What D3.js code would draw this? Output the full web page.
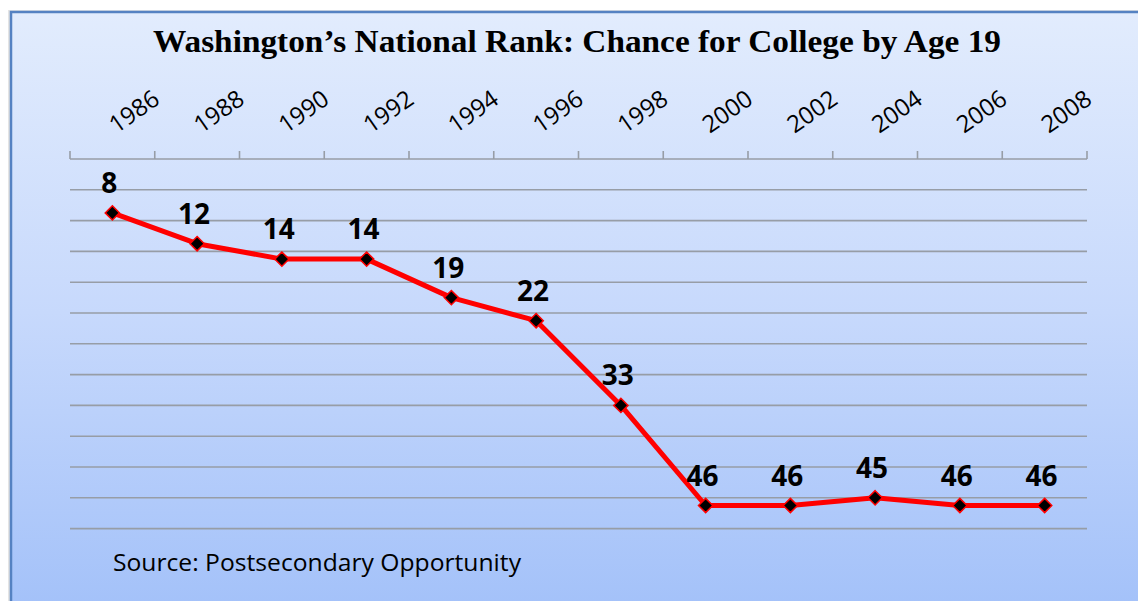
<!DOCTYPE html>
<html>
<head>
<meta charset="utf-8">
<style>
body {
  margin: 0;
  background: #ffffff;
  width: 1138px;
  height: 601px;
  overflow: hidden;
}
.grid line {
  stroke: #979da6;
  stroke-width: 1.6px;
}
.year {
  font-family: "Open Sans", sans-serif;
  font-size: 24px;
  fill: #000;
}
.lbl {
  font-family: "Open Sans", sans-serif;
  font-weight: bold;
  font-size: 28px;
  fill: #000;
  text-anchor: middle;
}
</style>
</head>
<body>
<svg width="1138" height="601"></svg>
<script src="https://d3js.org/d3.v7.min.js"></script>
<script>

// data
var years = ["1986", "1988", "1990", "1992", "1994", "1996", "1998", "2000", "2002", "2004", "2006", "2008"];
var ranks = [8, 12, 14, 14, 19, 22, 33, 46, 46, 45, 46, 46];
var rankTicks = [1, 5, 9, 13, 17, 21, 25, 29, 33, 37, 41, 45, 49];

var titleText = "Washington\u2019s National Rank: Chance for College by Age 19";
var sourceText = "Source: Postsecondary Opportunity";

var svg = d3.select("svg");

var data = years.map(function(y, i) { return {year: y, rank: ranks[i]}; });

// background panel with gradient
var defs = svg.append("defs");
var grad = defs.append("linearGradient")
    .attr("id", "bg")
    .attr("x1", 0).attr("y1", 0).attr("x2", 0).attr("y2", 1);
grad.append("stop").attr("offset", "0%").attr("stop-color", "#e2ecfd");
grad.append("stop").attr("offset", "50%").attr("stop-color", "#c7d9fc");
grad.append("stop").attr("offset", "100%").attr("stop-color", "#a3c1f9");

// faint shadow left of the frame
svg.append("rect")
    .attr("x", 8).attr("y", 10).attr("width", 1140).attr("height", 600)
    .attr("fill", "#e4e4e4");
svg.append("rect")
    .attr("x", 11).attr("y", 12).attr("width", 1140).attr("height", 600)
    .attr("fill", "url(#bg)")
    .attr("stroke", "#5582c2")
    .attr("stroke-width", 2.5);

var x = d3.scaleBand().domain(years).range([70, 1087]).padding(0);
var y = d3.scaleLinear().domain([1, 49]).range([159, 528.6]);

function cx(d) { return x(d) + x.bandwidth() / 2; }

// horizontal gridlines
svg.append("g")
    .attr("class", "grid")
    .selectAll("line")
    .data(rankTicks.slice(1))
    .join("line")
    .attr("x1", 70)
    .attr("x2", 1087)
    .attr("y1", function(d) { return y(d); })
    .attr("y2", function(d) { return y(d); });

// category axis at the top (ranks are reversed, so it crosses at rank 1)
var axis = svg.append("g").attr("class", "grid");
axis.append("line")
    .attr("x1", 70).attr("x2", 1087)
    .attr("y1", y(1)).attr("y2", y(1));
axis.selectAll("line.tick")
    .data(d3.range(years.length + 1))
    .join("line")
    .attr("class", "tick")
    .attr("x1", function(i) { return 70 + i * x.step(); })
    .attr("x2", function(i) { return 70 + i * x.step(); })
    .attr("y1", y(1))
    .attr("y2", y(1) - 8);

svg.append("g")
    .selectAll("text")
    .data(years)
    .join("text")
    .attr("class", "year")
    .attr("transform", function(d) { return "translate(" + (cx(d) + 4) + ",134) rotate(-35)"; })
    .text(function(d) { return d; });

// the line
var line = d3.line()
    .x(function(d) { return cx(d.year); })
    .y(function(d) { return y(d.rank); });

svg.append("path")
    .datum(data)
    .attr("fill", "none")
    .attr("stroke", "#ff0000")
    .attr("stroke-width", 5)
    .attr("stroke-linejoin", "round")
    .attr("d", line);

svg.append("g")
    .selectAll("path")
    .data(data)
    .join("path")
    .attr("d", d3.symbol().type(d3.symbolDiamond2).size(130))
    .attr("transform", function(d) { return "translate(" + cx(d.year) + "," + y(d.rank) + ")"; })
    .attr("fill", "#000")
    .attr("stroke", "#ff0000")
    .attr("stroke-width", 1.5);

svg.append("g")
    .selectAll("text")
    .data(data)
    .join("text")
    .attr("class", "lbl")
    .attr("x", function(d) { return cx(d.year) - 3; })
    .attr("y", function(d) { return y(d.rank) - 20; })
    .text(function(d) { return d.rank; });

// title and source
svg.append("text")
    .attr("x", 577)
    .attr("y", 52)
    .attr("text-anchor", "middle")
    .attr("font-family", "'Liberation Serif', serif")
    .attr("font-weight", "bold")
    .attr("font-size", 31)
    .attr("textLength", 848)
    .attr("lengthAdjust", "spacingAndGlyphs")
    .text(titleText);

svg.append("text")
    .attr("x", 113)
    .attr("y", 571)
    .attr("font-family", "'Open Sans', sans-serif")
    .attr("font-size", 23)
    .attr("textLength", 408)
    .attr("lengthAdjust", "spacingAndGlyphs")
    .text(sourceText);

</script>
</body>
</html>
